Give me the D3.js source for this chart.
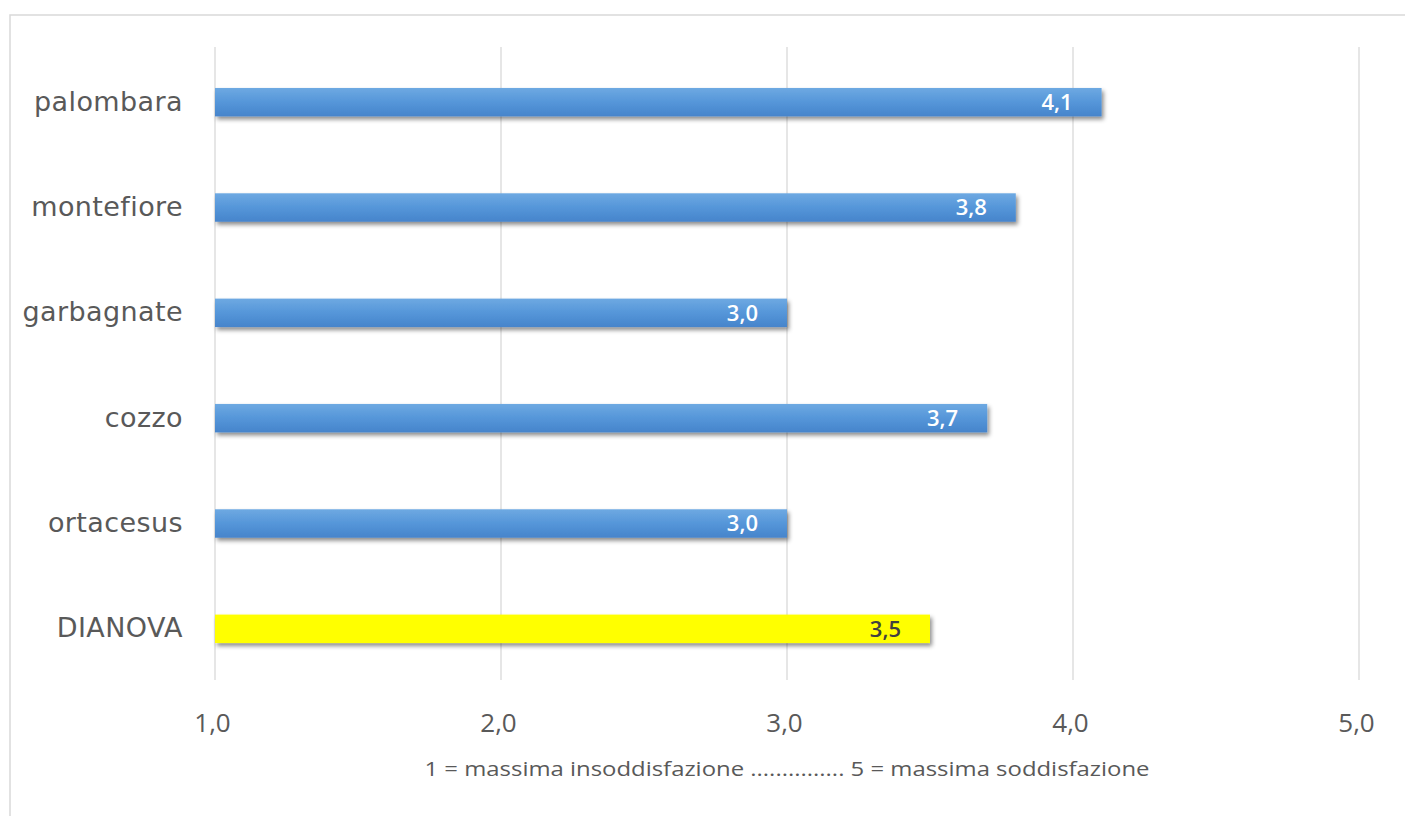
<!DOCTYPE html>
<html><head><meta charset="utf-8">
<script src="https://cdn.jsdelivr.net/npm/d3@7"></script>
<style>
html,body{margin:0;padding:0;background:#fff;}
svg{display:block;}
</style></head>
<body>
<script>
const categories = ["palombara","montefiore","garbagnate","cozzo","ortacesus","DIANOVA"];
const values = [4.1, 3.8, 3.0, 3.7, 3.0, 3.5];
const highlight = ["DIANOVA"];
const tickValues = [1,2,3,4,5];
const axisTitle = "1 = massima insoddisfazione ............... 5 = massima soddisfazione";

const W = 1405, H = 816;
const svg = d3.select("body").append("svg").attr("width", W).attr("height", H);

const defs = svg.append("defs");
const grad = defs.append("linearGradient").attr("id","blueGrad").attr("x1",0).attr("y1",0).attr("x2",0).attr("y2",1);
grad.append("stop").attr("offset","0%").attr("stop-color","#6ea9e2");
grad.append("stop").attr("offset","50%").attr("stop-color","#5596d9");
grad.append("stop").attr("offset","100%").attr("stop-color","#4684cb");
const f = defs.append("filter").attr("id","shadow").attr("x","-5%").attr("y","-50%").attr("width","110%").attr("height","220%");
f.append("feDropShadow").attr("dx",2).attr("dy",3).attr("stdDeviation",2.2).attr("flood-color","#000").attr("flood-opacity",0.45);

// chart border
svg.append("rect").attr("x",10).attr("y",15).attr("width",W+20).attr("height",H+20)
  .attr("fill","none").attr("stroke","#d9d9d9").attr("stroke-width",1.5);

const x = d3.scaleLinear().domain([1,5]).range([215,1359]);
const y = d3.scaleBand().domain(categories).range([49,682]).paddingInner(0.73).paddingOuter(0.37);

// gridlines
svg.append("g").selectAll("line").data(tickValues).join("line")
  .attr("x1",d=>x(d)).attr("x2",d=>x(d)).attr("y1",47).attr("y2",680)
  .attr("stroke","#d9d9d9").attr("stroke-width",1.3);

// x axis labels
const fmt = d => d3.format(".1f")(d).replace(".",",");
const xAxis = d3.axisBottom(x).tickValues(tickValues).tickFormat(fmt).tickSize(0).tickPadding(0);
const gx = svg.append("g").attr("transform","translate(-3,714)").call(xAxis);
gx.select(".domain").remove();
gx.selectAll("text").attr("font-family","'Open Sans', sans-serif").attr("font-size",26).attr("fill","#595959");

// y axis labels
const yAxis = d3.axisLeft(y).tickSize(0).tickPadding(0);
const gy = svg.append("g").attr("transform","translate(183,0)").call(yAxis);
gy.select(".domain").remove();
gy.selectAll("text").attr("font-family","'DejaVu Sans', sans-serif").attr("font-size",27)
  .attr("letter-spacing",0.4).attr("fill","#595959");

// bars
svg.append("g").selectAll("rect").data(categories).join("rect")
  .attr("x",x(1)).attr("y",d=>y(d)).attr("height",y.bandwidth())
  .attr("width",(d,i)=>x(values[i])-x(1))
  .attr("fill",d=>highlight.includes(d) ? "#ffff00" : "url(#blueGrad)")
  .attr("filter","url(#shadow)");

// value labels
svg.append("g").selectAll("text").data(categories).join("text")
  .attr("x",(d,i)=>x(values[i])-29).attr("y",d=>y(d)+y.bandwidth()/2)
  .attr("dy","0.36em").attr("text-anchor","end")
  .attr("font-family","'Open Sans', sans-serif").attr("font-size",22).attr("font-weight",600)
  .attr("fill",d=>highlight.includes(d) ? "#404040" : "#ffffff")
  .text((d,i)=>fmt(values[i]));

// axis title
svg.append("text").attr("x",x(3)).attr("y",776).attr("text-anchor","middle")
  .attr("font-family","'Open Sans', sans-serif").attr("font-size",20).attr("fill","#595959")
  .attr("textLength",725).attr("lengthAdjust","spacingAndGlyphs")
  .text(axisTitle);
</script>
</body></html>
